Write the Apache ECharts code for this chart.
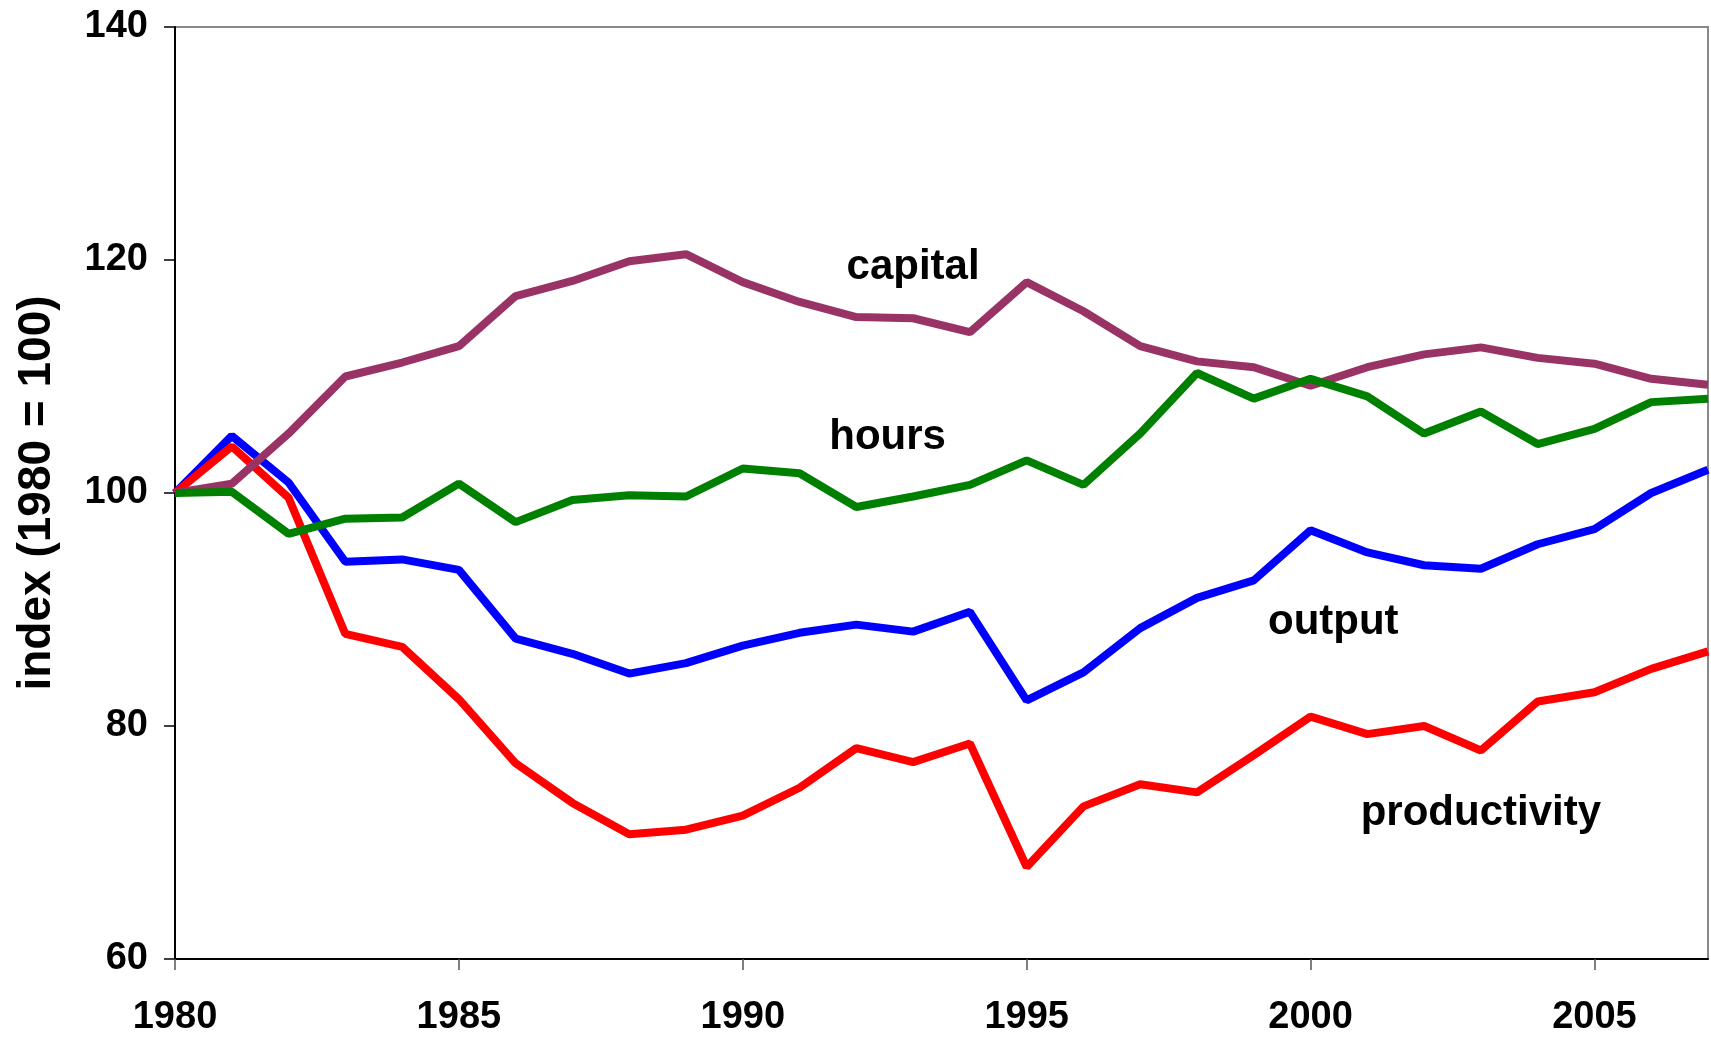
<!DOCTYPE html>
<html>
<head>
<meta charset="utf-8">
<script src="https://cdn.jsdelivr.net/npm/echarts@6/dist/echarts.min.js"></script>
<style>
  html, body { margin: 0; padding: 0; background: #fff; }
  #chart { width: 1711px; height: 1037px; }
</style>
</head>
<body>
<div id="chart"></div>
<script>
// 年份
const years = [1980, 1981, 1982, 1983, 1984, 1985, 1986, 1987, 1988, 1989,
  1990, 1991, 1992, 1993, 1994, 1995, 1996, 1997, 1998, 1999,
  2000, 2001, 2002, 2003, 2004, 2005, 2006, 2007]

const output = [100, 104.9, 100.9, 94.1, 94.3, 93.4, 87.5, 86.2, 84.5, 85.4,
  86.9, 88.0, 88.7, 88.1, 89.8, 82.2, 84.6, 88.4, 91.0, 92.5,
  96.8, 94.9, 93.8, 93.5, 95.6, 96.9, 100.0, 102.0]

const productivity = [100, 104.0, 99.6, 87.9, 86.8, 82.3, 76.8, 73.4, 70.7, 71.1,
  72.3, 74.7, 78.1, 76.9, 78.5, 67.9, 73.1, 75.0, 74.3, 77.5,
  80.8, 79.3, 80.0, 77.9, 82.1, 82.9, 84.9, 86.4]

const capital = [100, 100.8, 105.1, 110.0, 111.2, 112.6, 116.9, 118.2, 119.9, 120.5,
  118.1, 116.4, 115.1, 115.0, 113.8, 118.1, 115.6, 112.6, 111.3, 110.8,
  109.2, 110.8, 111.9, 112.5, 111.6, 111.1, 109.8, 109.3]

const hours = [100, 100.1, 96.5, 97.8, 97.9, 100.8, 97.5, 99.4, 99.8, 99.7,
  102.1, 101.7, 98.8, 99.7, 100.7, 102.8, 100.7, 105.1, 110.3, 108.1,
  109.8, 108.3, 105.1, 107.0, 104.2, 105.5, 107.8, 108.1]

// 曲线标注（数据坐标）
const labelNames = ['output', 'productivity', 'capital', 'hours']
const labelYears = [2000.4, 2003.0, 1993.0, 1992.55]
const labelValues = [88.9, 72.5, 119.4, 104.8]

const seriesColors = ['#0000ff', '#ff0000', '#993366', '#008000']
const seriesData = [output, productivity, capital, hours]

const font = "'Liberation Sans', Arial, sans-serif"

let chart = echarts.init(document.getElementById('chart'))

chart.setOption({
  animation: false,
  backgroundColor: '#fff',
  grid: {
    left: 175,
    right: 3,
    top: 27,
    bottom: 77,
    show: true,
    borderColor: '#888',
    borderWidth: 2
  },
  xAxis: {
    type: 'value',
    min: 1980,
    max: 2007,
    interval: 5,
    axisLine: { lineStyle: { color: '#000', width: 2 } },
    axisTick: { show: true, length: 11, lineStyle: { color: '#555', width: 1.5 } },
    axisLabel: {
      color: '#000',
      fontSize: 38,
      fontWeight: 'bold',
      fontFamily: font,
      margin: 40,
      showMaxLabel: false,
      formatter: v => String(v)
    },
    splitLine: { show: false }
  },
  yAxis: {
    type: 'value',
    min: 60,
    max: 140,
    interval: 20,
    name: 'index (1980 = 100)',
    nameLocation: 'middle',
    nameRotate: 90,
    nameGap: 115,
    nameTextStyle: {
      color: '#000',
      fontSize: 46,
      fontWeight: 'bold',
      fontFamily: font
    },
    axisLine: { show: true, lineStyle: { color: '#000', width: 2 } },
    axisTick: { show: true, length: 11, lineStyle: { color: '#000', width: 1.5 } },
    axisLabel: {
      color: '#000',
      fontSize: 38,
      fontWeight: 'bold',
      fontFamily: font,
      margin: 27
    },
    splitLine: { show: false }
  },
  series: seriesData.map((vals, i) => ({
    name: labelNames[i],
    type: 'line',
    data: years.map((y, j) => [y, vals[j]]),
    symbol: 'none',
    lineStyle: { color: seriesColors[i], width: 8 },
    itemStyle: { color: seriesColors[i] },
    z: 2 + i,
    markPoint: {
      symbol: 'circle',
      symbolSize: 0,
      silent: true,
      label: {
        show: true,
        position: 'inside',
        formatter: labelNames[i],
        color: '#000',
        fontSize: 42,
        fontWeight: 'bold',
        fontFamily: font
      },
      data: [{ coord: [labelYears[i], labelValues[i]] }]
    }
  }))
})
</script>
</body>
</html>
